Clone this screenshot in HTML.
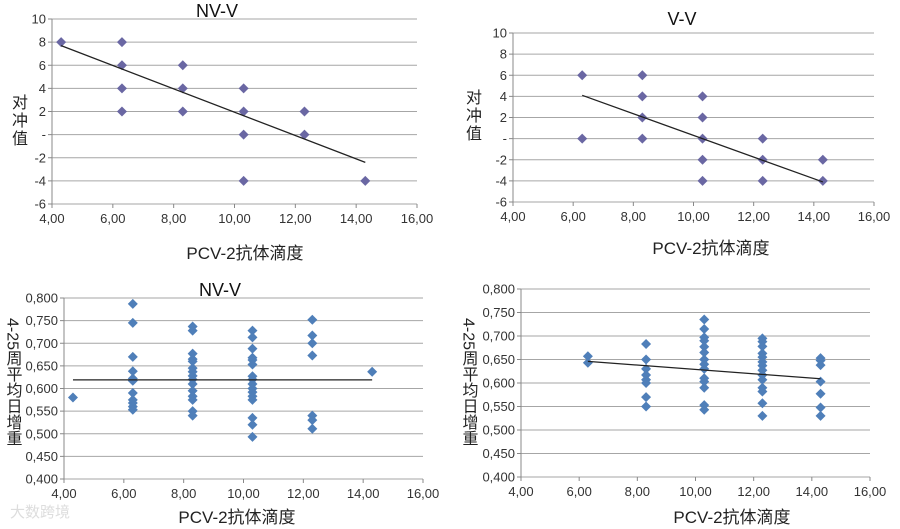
<!DOCTYPE html>
<html><head><meta charset="utf-8">
<style>
html,body{margin:0;padding:0;background:#fff;}
svg{display:block;font-family:"Liberation Sans","Noto Sans CJK SC",sans-serif;}
.vt{writing-mode:vertical-rl;text-orientation:mixed;}
</style></head>
<body>
<svg id="c" width="900" height="529" viewBox="0 0 900 529"></svg>
<script>
// Chart 1 data (NV-V, 对冲值)
const c1X = [4.3, 6.3, 6.3, 6.3, 6.3, 8.3, 8.3, 8.3, 10.3, 10.3, 10.3, 10.3, 12.3, 12.3, 14.3];
const c1Y = [8, 8, 6, 4, 2, 6, 4, 2, 4, 2, 0, -4, 2, 0, -4];
const c1Trend = [[4.3, 7.7], [14.3, -2.4]];
// Chart 2 data (V-V, 对冲值)
const c2X = [6.3, 6.3, 8.3, 8.3, 8.3, 8.3, 10.3, 10.3, 10.3, 10.3, 10.3, 12.3, 12.3, 12.3, 14.3, 14.3];
const c2Y = [6, 0, 6, 4, 2, 0, 4, 2, 0, -2, -4, 0, -2, -4, -2, -4];
const c2Trend = [[6.3, 4.1], [14.3, -4.1]];
// Chart 3 data (NV-V, 日增重)
const c3X = [4.3, 6.3,6.3,6.3,6.3,6.3,6.3,6.3,6.3,6.3,6.3,6.3,
  8.3,8.3,8.3,8.3,8.3,8.3,8.3,8.3,8.3,8.3,8.3,8.3,8.3,8.3,8.3,
  10.3,10.3,10.3,10.3,10.3,10.3,10.3,10.3,10.3,10.3,10.3,10.3,10.3,10.3,10.3,10.3,
  12.3,12.3,12.3,12.3,12.3,12.3,12.3, 14.3];
const c3Y = [0.58, 0.787,0.745,0.670,0.638,0.622,0.617,0.590,0.575,0.568,0.560,0.553,
  0.737,0.728,0.677,0.665,0.660,0.645,0.637,0.628,0.620,0.610,0.595,0.583,0.575,0.550,0.540,
  0.728,0.713,0.688,0.668,0.663,0.653,0.627,0.620,0.610,0.600,0.592,0.583,0.575,0.535,0.520,0.493,
  0.752,0.717,0.700,0.673,0.540,0.530,0.511, 0.637];
const c3Trend = [[4.3, 0.619], [14.3, 0.619]];
// Chart 4 data (日增重)
const c4X = [6.3,6.3, 8.3,8.3,8.3,8.3,8.3,8.3,8.3,8.3,
  10.3,10.3,10.3,10.3,10.3,10.3,10.3,10.3,10.3,10.3,10.3,10.3,10.3,10.3,
  12.3,12.3,12.3,12.3,12.3,12.3,12.3,12.3,12.3,12.3,12.3,12.3,12.3,12.3,
  14.3,14.3,14.3,14.3,14.3,14.3,14.3];
const c4Y = [0.657,0.643, 0.683,0.650,0.630,0.617,0.607,0.600,0.570,0.550,
  0.735,0.715,0.697,0.690,0.677,0.665,0.650,0.640,0.630,0.610,0.603,0.590,0.553,0.543,
  0.695,0.688,0.678,0.663,0.655,0.645,0.637,0.627,0.617,0.607,0.590,0.582,0.557,0.530,
  0.653,0.648,0.638,0.603,0.577,0.548,0.530];
const c4Trend = [[6.3, 0.646], [14.3, 0.609]];
const xTicks = [4, 6, 8, 10, 12, 14, 16];
const xTickLabels = ["4,00","6,00","8,00","10,00","12,00","14,00","16,00"];
const yTicksTop = [10, 8, 6, 4, 2, 0, -2, -4, -6];
const yTickLabelsTop = ["10","8","6","4","2","-","-2","-4","-6"];
const yTicksBot = [0.8,0.75,0.7,0.65,0.6,0.55,0.5,0.45,0.4];
const yTickLabelsBot = ["0,800","0,750","0,700","0,650","0,600","0,550","0,500","0,450","0,400"];

const svg = document.getElementById('c');
const NS = 'http://www.w3.org/2000/svg';
function mk(tag, attrs, parent){const e=document.createElementNS(NS,tag);for(const k in attrs)e.setAttribute(k,attrs[k]);(parent||svg).appendChild(e);return e;}

function chart(o){
  const g = mk('g',{});
  
  
  const sx = v => o.L + (v - 4) / 12 * (o.R - o.L);
  const sy = v => o.T + (o.ymax - v) / (o.ymax - o.ymin) * (o.B - o.T);
  o.yTicks.forEach((t,i)=>{
    const y = sy(t);
    const ln = mk('line',{x1:o.L,x2:o.R,y1:y,y2:y,stroke:'#a6a6a6','stroke-width':1},g);
    
    
    mk('line',{x1:o.L-4,x2:o.L,y1:y,y2:y,stroke:'#888'},g);
    const tx = mk('text',{x:o.L-6,y:y+4.5,'text-anchor':'end','font-size':13,fill:'#333'},g);
    tx.textContent = o.yLabels[i];
    
    
  });
  mk('line',{x1:o.L,x2:o.L,y1:o.T,y2:o.B,stroke:'#888'},g);
  xTicks.forEach((t,i)=>{
    const x = sx(t);
    mk('line',{x1:x,x2:x,y1:o.B,y2:o.B+4,stroke:'#888'},g);
    const tx = mk('text',{x:x,y:o.B+19,'text-anchor':'middle','font-size':13,fill:'#333'},g);
    tx.textContent = xTickLabels[i];
    
    
  });
  o.xs.forEach((xv,i)=>{
    const cx = sx(xv), cy = sy(o.ys[i]), r = 5;
    const p = mk('polygon',{points:`${cx},${cy-r} ${cx+r},${cy} ${cx},${cy+r} ${cx-r},${cy}`,fill:o.color},g);
    
    
  });
  const tl = mk('line',{x1:sx(o.trend[0][0]),y1:sy(o.trend[0][1]),x2:sx(o.trend[1][0]),y2:sy(o.trend[1][1]),stroke:'#222','stroke-width':1.3},g);
  
  
  if(o.title){
    const t = mk('text',{x:o.titleX,y:o.titleY,'text-anchor':'middle','font-size':18,fill:'#111'},g);
    t.textContent = o.title;
    
    
  }
  const xt = mk('text',{x:o.xtX,y:o.xtY,'text-anchor':'middle','font-size':17,fill:'#222'},g);
  xt.textContent = 'PCV-2抗体滴度';
  
  
  const yg = mk('g',{},g);
  
  
  if(o.rot){
    const yt = mk('text',{x:o.ytX,y:o.ytY,'font-size':16,fill:'#222',class:'vt'},yg);
    yt.textContent = o.ytitle;
  } else {
    [...o.ytitle].forEach((ch,i)=>{
      const yt = mk('text',{x:o.ytX,y:o.ytY+i*18,'font-size':16,'text-anchor':'middle',fill:'#222'},yg);
      yt.textContent = ch;
    });
  }
}
const purple = '#6a67a3', blue = '#4f7fb9';
chart({name:'chart-nv-v-top',L:52,R:417,T:19,B:204,ymin:-6,ymax:10,yTicks:yTicksTop,yLabels:yTickLabelsTop,xs:c1X,ys:c1Y,trend:c1Trend,color:purple,title:'NV-V',titleX:217,titleY:17,xtX:245,xtY:259,ytitle:'对冲值',ytX:20,ytY:108});
chart({name:'chart-v-v-top',L:513,R:874,T:33,B:202,ymin:-6,ymax:10,yTicks:yTicksTop,yLabels:yTickLabelsTop,xs:c2X,ys:c2Y,trend:c2Trend,color:purple,title:'V-V',titleX:682,titleY:25,xtX:711,xtY:254,ytitle:'对冲值',ytX:474,ytY:103});
chart({name:'chart-nv-v-bottom',L:64,R:423,T:298,B:479,ymin:0.4,ymax:0.8,yTicks:yTicksBot,yLabels:yTickLabelsBot,xs:c3X,ys:c3Y,trend:c3Trend,color:blue,title:'NV-V',titleX:220,titleY:296,xtX:237,xtY:523,ytitle:'4-25周平均日增重',ytX:12,ytY:318,rot:true});
chart({name:'chart-v-bottom',L:521,R:870,T:289,B:477,ymin:0.4,ymax:0.8,yTicks:yTicksBot,yLabels:yTickLabelsBot,xs:c4X,ys:c4Y,trend:c4Trend,color:blue,xtX:732,xtY:523,ytitle:'4-25周平均日增重',ytX:468,ytY:318,rot:true});
const wm = mk('text',{x:10,y:517,'font-size':15,fill:'#ddd'});
wm.textContent = '大数跨境';


</script>
</body></html>
